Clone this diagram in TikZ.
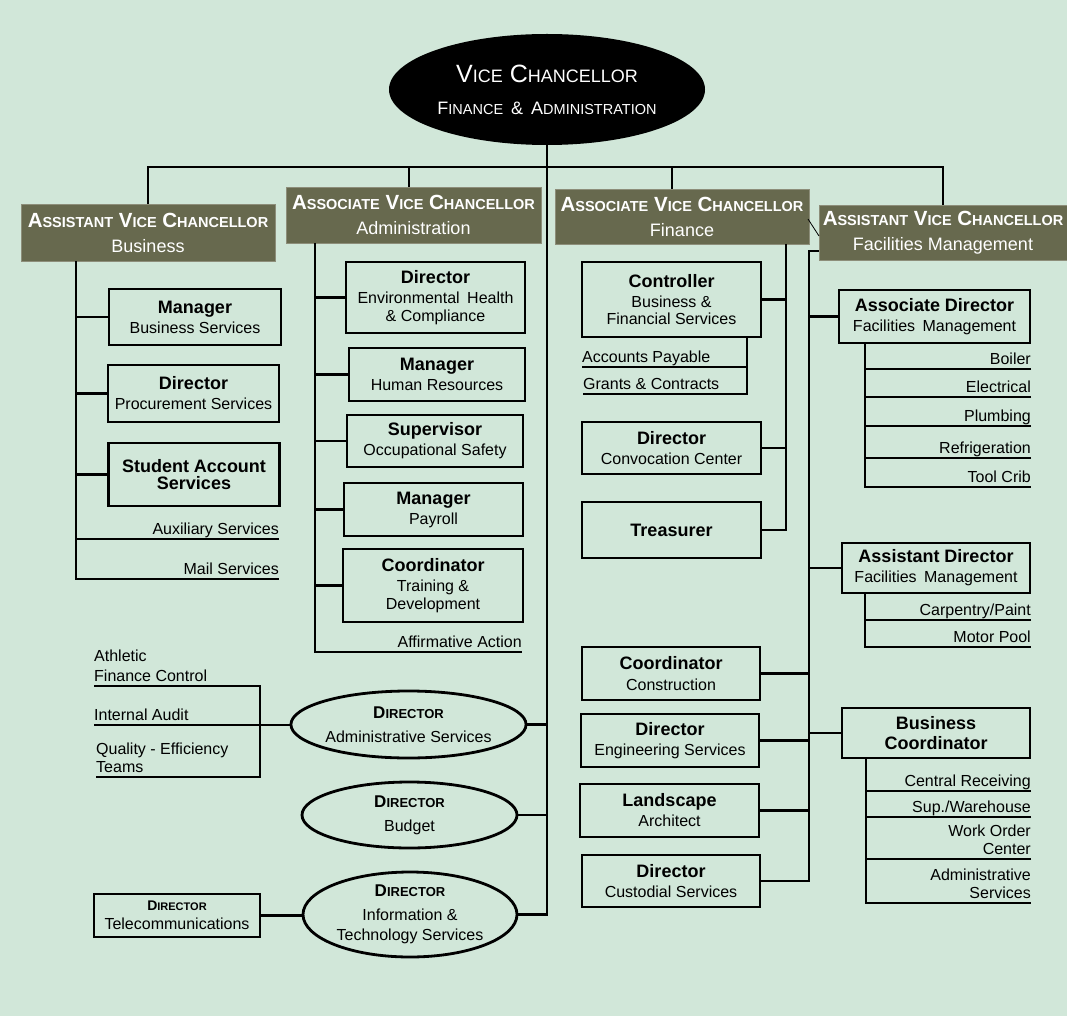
\documentclass[tikz,border=0pt]{standalone}
\usepackage{fontspec}
\setmainfont{Liberation Sans}
\usetikzlibrary{shapes.geometric}
\definecolor{bgc}{RGB}{209,231,217}
\definecolor{olive}{RGB}{103,105,78}
\newcommand\smc[2]{{\fontsize{#1}{#1}\selectfont #2}}
\newcommand\ttl[1]{{\fontsize{18}{20}\selectfont\bfseries #1}}
\tikzset{
  conn/.style={line width=2.8pt},
  orgbox/.style={draw, line width=2.8pt, inner sep=0pt, align=center, font=\fontsize{16}{17.5}\selectfont},
  hdr/.style={fill=olive, draw=olive!75!white, line width=0.8pt, text=white, inner sep=0pt, align=center, font=\fontsize{18}{20}\selectfont},
  oval/.style={ellipse, draw, line width=2.8pt, inner sep=0pt, align=center, font=\fontsize{16}{19.5}\selectfont},
  topoval/.style={ellipse, fill=black, text=white, inner sep=0pt, align=center, font=\fontsize{25}{30}\selectfont},
  item/.style={inner sep=0pt, text depth=4.5pt, font=\fontsize{16}{18}\selectfont},
  ritem/.style={item, anchor=south east},
  litem/.style={item, anchor=south west},
}
\begin{document}
\begin{tikzpicture}[x=1pt,y=-1pt]
\useasboundingbox (0,0) rectangle (1067,1016);
\fill[bgc] (0,0) rectangle (1067,1016);

% ---------- top ----------
\node[topoval, minimum width=316, minimum height=111] (vc) at (547,89.5)
  {V\smc{18}{ICE} C\smc{18}{HANCELLOR}\\[2pt]
   {\fontsize{18}{20}\selectfont F\smc{14.5}{INANCE}\hspace{3pt} \&\hspace{3pt} A\smc{14.5}{DMINISTRATION}}};
\coordinate (busY) at (0,167);
\coordinate (tAdm) at (409,187);
\coordinate (tFin) at (672,189);

% ---------- headers ----------
\node[hdr, minimum width=254, minimum height=57] (hBus) at (148,232.5)
  {{\bfseries\fontsize{20.5}{22}\selectfont A\smc{14.5}{SSISTANT} V\smc{14.5}{ICE} C\smc{14.5}{HANCELLOR}}\\[5pt] Business};
\node[hdr, minimum width=255, minimum height=56] (hAdm) at (413.5,215)
  {{\bfseries\fontsize{20.5}{22}\selectfont A\smc{14.5}{SSOCIATE} V\smc{14.5}{ICE} C\smc{14.5}{HANCELLOR}}\\[5pt] Administration};
\node[hdr, minimum width=254, minimum height=55] (hFin) at (682,216.5)
  {{\bfseries\fontsize{20.5}{22}\selectfont A\smc{14.5}{SSOCIATE} V\smc{14.5}{ICE} C\smc{14.5}{HANCELLOR}}\\[5pt] Finance};
\node[hdr, minimum width=248, minimum height=55] (hFac) at (943,232.5)
  {{\bfseries\fontsize{20.5}{22}\selectfont A\smc{14.5}{SSISTANT} V\smc{14.5}{ICE} C\smc{14.5}{HANCELLOR}}\\[5pt] Facilities Management};

\draw[conn] (vc.south) -- (vc.south |- busY);
\draw[conn] (hBus.north) -- (hBus.north |- busY) -- (hFac.north |- busY) -- (hFac.north);
\draw[conn] (tAdm) -- (tAdm |- busY);
\draw[conn] (tFin) -- (tFin |- busY);
\coordinate (d1) at (808,219);
\coordinate (d2) at (819,236);
\draw[line width=0.8pt] (d1) -- (d2);

% ---------- Business column ----------
\coordinate (bS) at (76,261);
\node[orgbox, minimum width=172, minimum height=56] (bMgr) at (195,317) {\ttl{Manager}\\[2.5pt] Business Services};
\node[orgbox, minimum width=171, minimum height=57] (bDir) at (193.5,393.5) {\ttl{Director}\\[2.5pt] Procurement Services};
\node[orgbox, minimum width=171, minimum height=63] (bSas) at (194,474.5) {\ttl{Student Account}\\ \ttl{Services}};
\node[ritem] (aux) at (279,539) {Auxiliary Services};
\node[ritem] (mail) at (279,579) {Mail Services};
\draw[conn] (bS) |- (mail.south east);
\draw[conn] (aux.south east) -- (aux.south east -| bS);
\draw[conn] (bMgr.west) -- (bMgr.west -| bS);
\draw[conn] (bDir.west) -- (bDir.west -| bS);
\draw[conn] (bSas.west) -- (bSas.west -| bS);

% ---------- Administration column ----------
\coordinate (aS) at (315,243);
\node[orgbox, minimum width=179, minimum height=71] (aEnv) at (435.5,297.5) {\ttl{Director}\\[2.5pt] Environmental\hspace{3pt} Health\\ \& Compliance};
\node[orgbox, minimum width=176, minimum height=53] (aHr) at (437,374.5) {\ttl{Manager}\\[2.5pt] Human Resources};
\node[orgbox, minimum width=176, minimum height=52] (aSup) at (435,441) {\ttl{Supervisor}\\[2.5pt] Occupational Safety};
\node[orgbox, minimum width=179, minimum height=53] (aPay) at (433.5,509.5) {\ttl{Manager}\\[2.5pt] Payroll};
\node[orgbox, minimum width=180, minimum height=73] (aTrn) at (433,585.5) {\ttl{Coordinator}\\[2.5pt] Training \&\\ Development};
\node[ritem] (aff) at (522,652) {Affirmative Action};
\draw[conn] (aS) |- (aff.south east);
\foreach \n in {aEnv,aHr,aSup,aPay,aTrn}
  \draw[conn] (\n.west) -- (\n.west -| aS);

% ---------- Finance column ----------
\coordinate (fnS) at (786,244);
\node[orgbox, minimum width=179, minimum height=75] (ctl) at (671.5,299.5) {\ttl{Controller}\\[2.5pt] Business \&\\ Financial Services};
\coordinate (cS) at (747,337);
\node[litem] (ap) at (582,367) {Accounts Payable};
\node[litem] (gc) at (583,394) {Grants \& Contracts};
\draw[conn] (cS) |- (gc.south west);
\draw[conn] (ap.south west) -- (ap.south west -| cS);
\node[orgbox, minimum width=179, minimum height=52] (conv) at (671.5,448) {\ttl{Director}\\[2.5pt] Convocation Center};
\node[orgbox, minimum width=179, minimum height=56] (tre) at (671.5,530) {\ttl{Treasurer}};
\draw[conn] (fnS) |- (tre.east);
\draw[conn] (ctl.east) -- (ctl.east -| fnS);
\draw[conn] (conv.east) -- (conv.east -| fnS);

% ---------- Facilities column ----------
\coordinate (fS) at (809,251);
\node[orgbox, minimum width=191, minimum height=53] (adFm) at (934.5,316.5) {\ttl{Associate Director}\\[2.5pt] Facilities\hspace{3pt} Management};
\coordinate (adS) at (865,343);
\node[ritem] (boil) at (1031,369) {Boiler};
\node[ritem] (elec) at (1031,397) {Electrical};
\node[ritem] (plum) at (1031,426) {Plumbing};
\node[ritem] (refr) at (1031,458) {Refrigeration};
\node[ritem] (tool) at (1031,487) {Tool Crib};
\draw[conn] (adS) |- (tool.south east);
\foreach \n in {boil,elec,plum,refr}
  \draw[conn] (\n.south east) -- (\n.south east -| adS);

\node[orgbox, minimum width=188, minimum height=50] (asFm) at (936,568) {\ttl{Assistant Director}\\[2.5pt] Facilities\hspace{3pt} Management};
\coordinate (asS) at (865,593);
\node[ritem] (carp) at (1031,620) {Carpentry/Paint};
\node[ritem] (motor) at (1031,647) {Motor Pool};
\draw[conn] (asS) |- (motor.south east);
\draw[conn] (carp.south east) -- (carp.south east -| asS);

\node[orgbox, minimum width=178, minimum height=53] (con) at (671,673.5) {\ttl{Coordinator}\\[3.5pt] Construction};
\node[orgbox, minimum width=178, minimum height=53] (eng) at (670,740.5) {\ttl{Director}\\[2.5pt] Engineering Services};
\node[orgbox, minimum width=179, minimum height=53] (lan) at (669.5,810.5) {\ttl{Landscape}\\[2.5pt] Architect};
\node[orgbox, minimum width=178, minimum height=52] (cus) at (671,881) {\ttl{Director}\\[2.5pt] Custodial Services};
\node[orgbox, minimum width=188, minimum height=50] (bCo) at (936,733) {\ttl{Business}\\[3pt] \ttl{Coordinator}};
\coordinate (bcS) at (866,758);
\node[ritem] (crec) at (1031,791) {Central Receiving};
\node[ritem] (supw) at (1031,817) {Sup./Warehouse};
\node[ritem] (work) at (1031,859) {\begin{tabular}[b]{@{}r@{}}Work Order\\Center\end{tabular}};
\node[ritem] (adms) at (1031,903) {\begin{tabular}[b]{@{}r@{}}Administrative\\Services\end{tabular}};
\draw[conn] (bcS) |- (adms.south east);
\foreach \n in {crec,supw,work}
  \draw[conn] (\n.south east) -- (\n.south east -| bcS);

\draw[conn] (hFac.west |- fS) -- (fS) -- (fS |- cus.east) -- (cus.east);
\foreach \n in {adFm,asFm,bCo}
  \draw[conn] (\n.west) -- (\n.west -| fS);
\foreach \n in {con,eng,lan}
  \draw[conn] (\n.east) -- (\n.east -| fS);

% ---------- bottom left ----------
\node[oval, minimum width=215, minimum height=67] (ad) at (408.5,724.5)
  {{\bfseries\fontsize{17}{19}\selectfont D\smc{13}{IRECTOR}}\\[4.5pt] Administrative Services};
\node[oval, minimum width=215, minimum height=66] (bud) at (409.5,815)
  {{\bfseries\fontsize{17}{19}\selectfont D\smc{13}{IRECTOR}}\\[4.5pt] Budget};
\node[oval, minimum width=214, minimum height=85] (it) at (410,914.5)
  {{\bfseries\fontsize{17}{19}\selectfont D\smc{13}{IRECTOR}}\\[4.5pt] Information \&\\ Technology Services};
\draw[conn] (vc.south |- busY) -- (vc.south |- it.east) -- (it.east);
\draw[conn] (ad.east) -- (ad.east -| vc.south);
\draw[conn] (bud.east) -- (bud.east -| vc.south);

\coordinate (adL) at (260,725);
\node[litem] (ath) at (94,686) {\begin{tabular}[b]{@{}l@{}}Athletic\\[2pt]Finance Control\end{tabular}};
\node[litem] (ia) at (94,725) {Internal Audit};
\node[litem] (qual) at (96,777) {\begin{tabular}[b]{@{}l@{}}Quality - Efficiency\\Teams\end{tabular}};
\draw[conn] (ath.south west) -- (ath.south west -| adL) -- (qual.south west -| adL) -- (qual.south west);
\draw[conn] (ia.south west) -- (ia.south west -| ad.west);

\node[orgbox, minimum width=166, minimum height=43] (tel) at (177,915.5)
  {{\bfseries\fontsize{14}{16}\selectfont D\smc{11}{IRECTOR}}\\[1pt] Telecommunications};
\draw[conn] (tel.east) -- (tel.east -| it.west);
\end{tikzpicture}
\end{document}
